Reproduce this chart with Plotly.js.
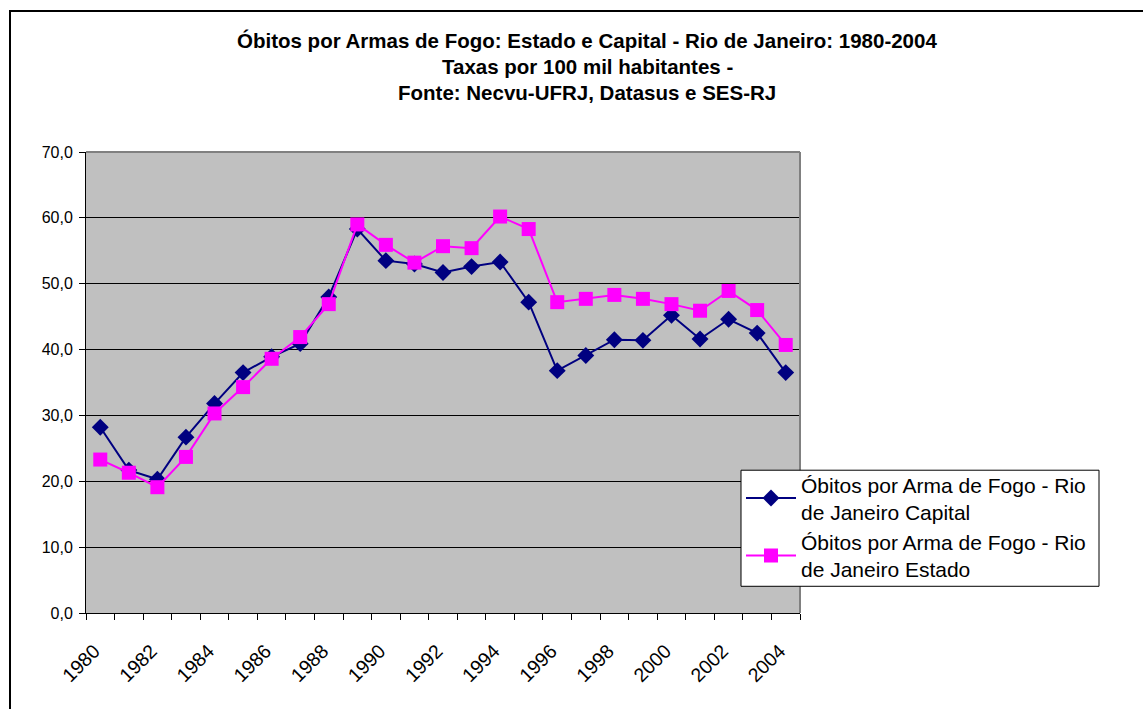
<!DOCTYPE html>
<html>
<head>
<meta charset="utf-8">
<script src="https://cdn.plot.ly/plotly-3.0.1.min.js"></script>
<style>
  html, body { margin: 0; padding: 0; background: #fff; }
  #wrap { position: relative; width: 1143px; height: 709px; overflow: hidden; }
  #chart { width: 1143px; height: 709px; }
  #frame { position: absolute; left: 9px; top: 10px; width: 1200px; height: 800px;
           border-left: 2px solid #000; border-top: 2px solid #000; pointer-events: none; }
</style>
</head>
<body>
<div id="wrap">
  <div id="chart"></div>
  <div id="frame"></div>
</div>
<script>
const years = [1980,1981,1982,1983,1984,1985,1986,1987,1988,1989,1990,1991,1992,1993,1994,1995,1996,1997,1998,1999,2000,2001,2002,2003,2004];
const capital = [28.2,21.7,20.3,26.7,31.8,36.5,38.9,40.9,48.0,58.3,53.5,53.0,51.7,52.6,53.3,47.2,36.8,39.1,41.5,41.4,45.2,41.6,44.6,42.5,36.5];
const estado  = [23.3,21.3,19.1,23.7,30.3,34.3,38.6,41.9,46.9,59.0,55.9,53.2,55.7,55.4,60.2,58.3,47.2,47.7,48.3,47.7,46.9,45.9,48.9,46.0,40.7];
const xTickLabels = ['1980','1982','1984','1986','1988','1990','1992','1994','1996','1998','2000','2002','2004'];
const xTickVals = xTickLabels.map(Number);
const nameCapital = 'Óbitos por Arma de Fogo - Rio<br>de Janeiro Capital';
const nameEstado = 'Óbitos por Arma de Fogo - Rio<br>de Janeiro Estado';
const titleLines = [
  'Óbitos por Armas de Fogo: Estado e Capital - Rio de Janeiro: 1980-2004',
  'Taxas por 100 mil habitantes -',
  'Fonte: Necvu-UFRJ, Datasus e SES-RJ'
];

const font = 'Arial, "Liberation Sans", sans-serif';

const traces = [
  { x: years, y: capital, name: nameCapital, type: 'scatter', mode: 'lines+markers',
    line: { color: '#000080', width: 2 },
    marker: { symbol: 'diamond', size: 13, color: '#000080' } },
  { x: years, y: estado, name: nameEstado, type: 'scatter', mode: 'lines+markers',
    line: { color: '#FF00FF', width: 2 },
    marker: { symbol: 'square', size: 14, color: '#FF00FF' } }
];

const L = 86, W = 714, B = 612.7, H = 460.7;
const px = v => (v - L) / W;
const py = v => (B - v) / H;

const titleY = [41, 67, 93];
const annotations = titleLines.map((t, i) => ({
  text: '<b>' + t + '</b>', xref: 'paper', yref: 'paper',
  x: px(587), y: py(titleY[i]),
  xanchor: 'center', yanchor: 'middle', showarrow: false,
  font: { family: font, size: 20.5, color: '#000' }
}));

const layout = {
  width: 1143, height: 709,
  margin: { l: 86, r: 343, t: 152, b: 96, pad: 0 },
  paper_bgcolor: '#ffffff',
  plot_bgcolor: '#C0C0C0',
  separators: ', ',
  showlegend: true,
  annotations: annotations,
  xaxis: {
    range: [1979.5, 2004.5],
    tickvals: xTickVals, ticktext: xTickLabels,
    ticks: '', tickangle: -45, ticklabelstandoff: 18, ticklabelshift: -6,
    tickfont: { family: font, size: 19.5, color: '#000' },
    showgrid: false, zeroline: false,
    showline: true, linecolor: '#000', linewidth: 1,
    minor: { tick0: 1979.5, dtick: 1, ticks: 'outside', ticklen: 6, tickcolor: '#000', tickwidth: 1, showgrid: false }
  },
  yaxis: {
    range: [0, 70], dtick: 10, tickformat: '.1f',
    ticks: 'outside', ticklen: 6, tickcolor: '#000', ticklabelstandoff: 3,
    tickfont: { family: font, size: 16, color: '#000' },
    showgrid: true, gridcolor: '#000', gridwidth: 1,
    zeroline: false, showline: true, linecolor: '#000', linewidth: 1
  },
  legend: {
    x: px(741), y: py(464),
    xanchor: 'left', yanchor: 'top',
    bgcolor: 'rgba(0,0,0,0)', borderwidth: 0,
    font: { family: font, size: 21, color: '#000' },
    itemwidth: 50, tracegroupgap: 0
  },
  shapes: [
    { type: 'line', xref: 'paper', yref: 'paper', x0: 0, x1: 1, y0: 1, y1: 1, line: { color: '#808080', width: 2 } },
    { type: 'line', xref: 'paper', yref: 'paper', x0: 1, x1: 1, y0: 0, y1: 1, line: { color: '#808080', width: 2 } },
    { type: 'rect', xref: 'paper', yref: 'paper', x0: px(741), x1: px(1099), y0: py(586), y1: py(470),
      fillcolor: '#ffffff', line: { color: '#000', width: 1 }, layer: 'above' }
  ]
};

Plotly.newPlot('chart', traces, layout, { displayModeBar: false, staticPlot: true });
</script>
</body>
</html>
